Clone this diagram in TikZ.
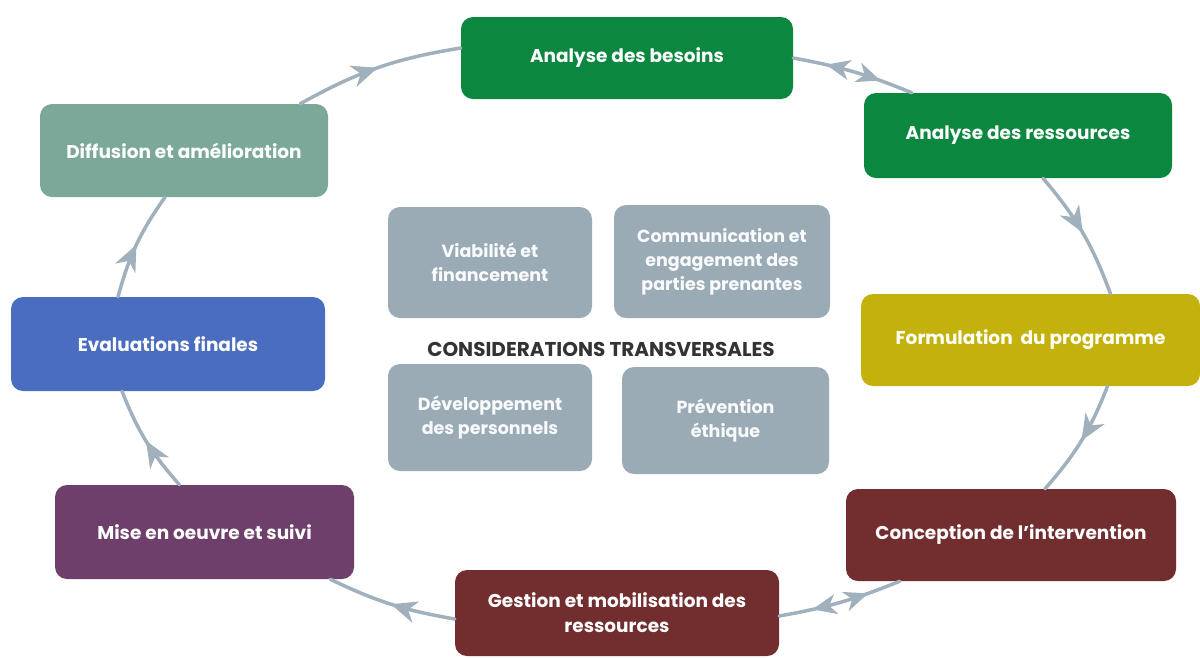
\documentclass[tikz,border=0pt]{standalone}
\usepackage{fontspec}
\setsansfont{Poppins}
\usetikzlibrary{arrows.meta,decorations.markings}
\definecolor{vert}{HTML}{0B873F}
\definecolor{olive}{HTML}{C4B20C}
\definecolor{brique}{HTML}{722E2E}
\definecolor{prune}{HTML}{6E3F6B}
\definecolor{bleu}{HTML}{4A6DC0}
\definecolor{sauge}{HTML}{7BA898}
\definecolor{ardoise}{HTML}{9AABB6}
\definecolor{fleche}{HTML}{A0B0BC}
\begin{document}
\begin{tikzpicture}[x=1pt,y=-1pt,line join=round,line cap=round,
	etape/.style={rounded corners=12pt,text=white,align=center,inner sep=0pt,
		font=\sffamily\bfseries\fontsize{18.5}{25}\selectfont},
	transv/.style={etape,fill=ardoise,text=white!94!ardoise,font=\sffamily\bfseries\fontsize{17.5}{24}\selectfont},
	cycle/.style={draw=fleche,line width=3.5pt,postaction={decorate},
		decoration={markings,mark=at position .5 with {\arrow{Stealth[length=26pt,width=22pt,inset=8pt]}}}},
	allerretour/.style={draw=fleche,line width=3.5pt,postaction={decorate},
		decoration={markings,mark=at position .27 with {\arrowreversed{Stealth[length=24pt,width=20pt,inset=7pt]}},
			mark=at position .73 with {\arrow{Stealth[length=24pt,width=20pt,inset=7pt]}}}}]
	\useasboundingbox (0,0) rectangle (1200,657);
	% etapes du cycle
	\node[etape,fill=vert,minimum width=332,minimum height=82] (bes) at (627,58) {Analyse des besoins};
	\node[etape,fill=vert,minimum width=308,minimum height=85] (res) at (1018,135.5) {Analyse des ressources};
	\node[etape,fill=olive,minimum width=339,minimum height=92] (form) at (1030.5,340) {Formulation~ du programme};
	\node[etape,fill=brique,minimum width=330,minimum height=92] (conc) at (1011,535) {Conception de l’intervention};
	\node[etape,fill=brique,minimum width=324,minimum height=86] (gest) at (617,613) {Gestion et mobilisation des\\ressources};
	\node[etape,fill=prune,minimum width=299,minimum height=94] (mise) at (204.5,532) {Mise en oeuvre et suivi};
	\node[etape,fill=bleu,minimum width=314,minimum height=94] (eval) at (168,344) {Evaluations finales};
	\node[etape,fill=sauge,minimum width=288,minimum height=93] (diff) at (184,150.5) {Diffusion et amélioration};
	% considerations transversales
	\node[transv,minimum width=204,minimum height=111] (viab) at (490,262.5) {Viabilité et\\financement};
	\node[transv,minimum width=216,minimum height=113] (comm) at (722,261.5) {Communication et\\engagement des\\parties prenantes};
	\node[transv,minimum width=204,minimum height=107] (dev) at (490,417.5) {Développement\\des personnels};
	\node[transv,minimum width=207,minimum height=107] (prev) at (725.5,420.5) {Prévention\\éthique};
	\node[text=black!80,font=\sffamily\bfseries\fontsize{20}{24}\selectfont] (titre) at (601,349) {CONSIDERATIONS TRANSVERSALES};
	% fleches
	\draw[cycle] ([xshift=-28pt]diff.north east) to[bend left=10] ([yshift=10pt]bes.west);
	\draw[allerretour] (bes.east) to[bend left=6] ([xshift=48pt]res.north west);
	\draw[cycle] ([xshift=25pt]res.south) to[bend left=10] ([xshift=80pt]form.north);
	\draw[cycle] ([xshift=77pt]form.south) to[bend left=10] ([xshift=34pt]conc.north);
	\draw[allerretour] ([xshift=54pt]conc.south west) to[bend left=6] ([yshift=-3pt]gest.east);
	\draw[cycle] ([yshift=-6pt]gest.west) to[bend left=8] ([xshift=-24pt]mise.south east);
	\draw[cycle] ([xshift=-25pt]mise.north) to[bend left=10] ([xshift=-46pt]eval.south);
	\draw[cycle] ([xshift=-50pt]eval.north) to[bend left=10] ([xshift=-19pt]diff.south);
\end{tikzpicture}
\end{document}
